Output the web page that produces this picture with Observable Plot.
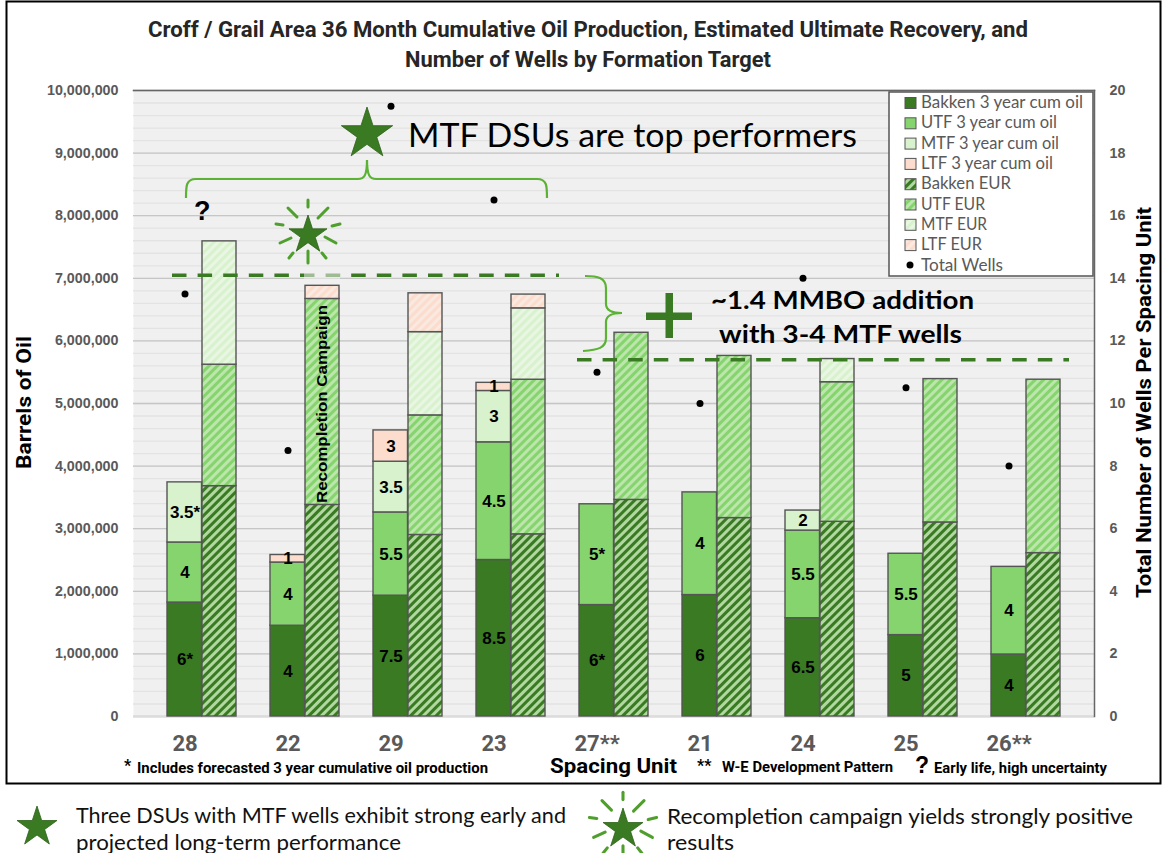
<!DOCTYPE html>
<html><head><meta charset="utf-8">
<script src="https://cdn.jsdelivr.net/npm/d3@7"></script>
<script src="https://cdn.jsdelivr.net/npm/@observablehq/plot@0.6"></script>
<style>html,body{margin:0;padding:0;background:#fff;overflow:hidden}svg{display:block}</style>
</head><body><div id="chart"></div>
<script>
const units = ["28","22","29","23","27**","21","24","25","26**"];
const bakkenCum = [1820000,1450000,1930000,2500000,1780000,1940000,1570000,1300000,990000];
const utfCum    = [960000,1010000,1330000,1880000,1610000,1640000,1400000,1300000,1400000];
const mtfCum    = [960000,0,810000,820000,0,0,320000,0,0];
const ltfCum    = [0,120000,500000,130000,0,0,0,0,0];
const bakkenEur = [3680000,3380000,2900000,2910000,3460000,3170000,3110000,3100000,2610000];
const utfEur    = [1940000,3290000,1910000,2470000,2670000,2590000,2230000,2290000,2770000];
const mtfEur    = [1970000,0,1330000,1140000,0,0,370000,0,0];
const ltfEur    = [0,210000,620000,220000,0,0,0,0,0];
const totalWells= [13.5,8.5,19.5,16.5,11,10,14,10.5,8];
const bakkenLabels = ["6*","4","7.5","8.5","6*","6","6.5","5","4"];
const utfLabels    = ["4","4","5.5","4.5","5*","4","5.5","5.5","4"];
const mtfLabels    = ["3.5*","","3.5","3","","","2","",""];
const ltfLabels    = ["","1","3","1","","","","",""];
const seriesNames = ["Bakken 3 year cum oil","UTF 3 year cum oil","MTF 3 year cum oil","LTF 3 year cum oil","Bakken EUR","UTF EUR","MTF EUR","LTF EUR"];
const seriesFills = ["#3a7a22","#86d46e","#d8f2cd","#fbdccd","url(#hBak)","url(#hUtf)","url(#hMtf)","url(#hLtf)"];
const legendWidths = [162,136,138,132,90,64,66,61];
const hatchDefs = [["hBak","#3a7a22","#b0d8a0"],["hUtf","#86d46e","#bce6ac"],["hMtf","#d8f2cd","#e9f6e3"],["hLtf","#fbdccd","#f9e9e1"]];
const topDashValue = 7040000, lowDashValue = 5690000;
const wellsAxisRatio = 500000; // 20 wells = 10,000,000 bbl on the shared height

const GREEN="#3a7a22", BRACE="#5cb234", GREY="#595959";
const SANS="Liberation Sans, Arial, sans-serif", UI="Roboto, sans-serif", BODY="Lato, sans-serif";

function rows(names, groups, labels){
  const out=[];
  groups.forEach((vals,g)=>vals.forEach((v,i)=>{ if(v>0) out.push({unit:units[i],series:names[g],value:v,label:labels?labels[g][i]:""}); }));
  return out;
}
const cumRows = rows(seriesNames.slice(0,4),[bakkenCum,utfCum,mtfCum,ltfCum],[bakkenLabels,utfLabels,mtfLabels,ltfLabels]);
const eurRows = rows(seriesNames.slice(4),[bakkenEur,utfEur,mtfEur,ltfEur]);
const wellRows = units.map((u,i)=>({unit:u,wells:totalWells[i]}));

const starPts=(cx,cy,R,r=R*0.382)=>d3.range(10).map(i=>{const a=-Math.PI/2+i*Math.PI/5,q=i%2?r:R;return [cx+q*Math.cos(a),cy+q*Math.sin(a)].join(",")}).join(" ");
const rayList=[[0,-35,0,-28],[10,-17,20,-27],[24,-9,32,-11],[17,2,28,8],[14,18,18,23],[0,16,0,28],[-19,23,-15,18],[-28,8,-17,3],[-32,-11,-25,-10],[-20,-27,-11,-18]];

function txt(g,s,x,y,o={}){
  const t=g.append("text").text(s).attr("x",o.rot?null:x).attr("y",o.rot?null:y)
   .attr("font-size",o.size||16).attr("font-weight",o.weight||400).attr("font-family",o.family||BODY)
   .attr("fill",o.fill||"#000").attr("text-anchor",o.anchor||"start");
  if(o.len){t.attr("textLength",o.len).attr("lengthAdjust","spacingAndGlyphs");}
  if(o.rot)t.attr("transform",`translate(${x},${y}) rotate(-90)`);
  return t;
}
function star(g,cx,cy,R,rays){
  g.append("polygon").attr("points",starPts(cx,cy,R)).attr("fill",GREEN).attr("stroke","#2d6219").attr("stroke-width",.8);
  if(rays) rayList.forEach(r=>g.append("line").attr("x1",cx+r[0]*rays).attr("y1",cy+r[1]*rays).attr("x2",cx+r[2]*rays).attr("y2",cy+r[3]*rays).attr("stroke","#4f9f2c").attr("stroke-width",3*Math.sqrt(rays)).attr("stroke-linecap","round"));
}

function defsMark(){
  const s=d3.create("svg:g"), d=s.append("defs");
  hatchDefs.forEach(([id,a,b])=>{
    const p=d.append("pattern").attr("id",id).attr("patternUnits","userSpaceOnUse").attr("width",6).attr("height",6).attr("patternTransform","rotate(45)");
    p.append("rect").attr("width",6).attr("height",6).attr("fill",a);
    p.append("rect").attr("width",3).attr("height",6).attr("fill",b);
  });
  return s.node();
}
function annotations(index,scales){
  const g=d3.create("svg:g"), y=scales.y;
  // outer border and titles
  g.append("rect").attr("x",6.5).attr("y",1.5).attr("width",1154).attr("height",782).attr("fill","none").attr("stroke","#000").attr("stroke-width",2);
  txt(g,"Croff / Grail Area 36 Month Cumulative Oil Production, Estimated Ultimate Recovery, and",148,37,{size:22,weight:700,family:UI,len:880,fill:"#262626"});
  txt(g,"Number of Wells by Formation Target",405,67,{size:22,weight:700,family:UI,len:366,fill:"#262626"});
  txt(g,"Barrels of Oil",31,469,{rot:1,size:20,weight:700,family:UI,len:133});
  txt(g,"Total Number of Wells Per Spacing Unit",1151,598,{rot:1,size:20,weight:700,family:UI,len:391});
  txt(g,"Spacing Unit",550,773,{size:21,weight:700,family:UI,len:127});
  txt(g,"*",124,771,{size:16,weight:700,family:UI});
  txt(g,"Includes forecasted 3 year cumulative oil production",137,773,{size:14.5,weight:700,family:UI,len:351});
  txt(g,"**",697,771,{size:16,weight:700,family:UI});
  txt(g,"W-E Development Pattern",722,772,{size:14.5,weight:700,family:UI,len:171});
  txt(g,"?",915,773,{size:23,weight:700,family:SANS});
  txt(g,"Early life, high uncertainty",934,773,{size:14.5,weight:700,family:UI,len:173});
  // dashed reference levels
  const d1=g.append("line").attr("x1",172).attr("x2",559).attr("y1",y(topDashValue)).attr("y2",y(topDashValue));
  const d2=g.append("line").attr("x1",577).attr("x2",1069).attr("y1",y(lowDashValue)).attr("y2",y(lowDashValue));
  [d1,d2].forEach(l=>l.attr("stroke",GREEN).attr("stroke-width",3.5).attr("stroke-dasharray","14.5 11.1"));
  g.append("rect").attr("x",304).attr("y",269).attr("width",36).attr("height",11).attr("fill","#f0f0f0").attr("opacity",.55);
  // top callout
  star(g,367,134,27);
  txt(g,"MTF DSUs are top performers",408,147,{size:32,family:BODY,len:449});
  g.append("path").attr("d","M186,198 C186,186 186,179 196,179 L358,179 C364,179 367,176 367,160 C367,176 370,179 376,179 L537,179 C547,179 547,186 547,198").attr("fill","none").attr("stroke",BRACE).attr("stroke-width",2.2);
  txt(g,"?",194,220,{size:27,weight:700,family:SANS});
  star(g,308,235,20,1);
  // right callout
  g.append("path").attr("d","M585,276 C598,276 606,278 606,288 L606,304 C606,311 612,313 622,313 C612,313 606,316 606,322 L606,338 C606,348 598,350 583,351").attr("fill","none").attr("stroke",BRACE).attr("stroke-width",2.2);
  g.append("rect").attr("x",646).attr("y",312.5).attr("width",46).attr("height",7.5).attr("fill",GREEN);
  g.append("rect").attr("x",665.5).attr("y",293).attr("width",7.5).attr("height",45).attr("fill",GREEN);
  txt(g,"~1.4 MMBO addition",711,309,{size:25,weight:700,family:BODY,len:263});
  txt(g,"with 3-4 MTF wells",719,343,{size:25,weight:700,family:BODY,len:243});
  txt(g,"Recompletion Campaign",327,503,{rot:1,size:15,weight:700,family:SANS,len:198});
  // legend box
  g.append("rect").attr("x",889).attr("y",92).attr("width",204).attr("height",184).attr("fill","#fff").attr("stroke","#555").attr("stroke-width",1.5);
  seriesNames.forEach((n,i)=>{
    const cy=102.5+i*20.3;
    g.append("rect").attr("x",905).attr("y",cy-5).attr("width",11).attr("height",11).attr("fill",seriesFills[i]).attr("stroke","#555").attr("stroke-width",1);
    txt(g,n,921,cy+5.5,{size:16.5,fill:GREY,family:BODY,len:legendWidths[i]});
  });
  g.append("circle").attr("cx",910).attr("cy",265).attr("r",3.5).attr("fill","#000");
  txt(g,"Total Wells",921,270.5,{size:16.5,fill:GREY,family:BODY,len:82});
  // bottom captions
  star(g,37,827,21);
  txt(g,"Three DSUs with MTF wells exhibit strong early and",76,823,{size:21,family:BODY,len:490,fill:"#111"});
  txt(g,"projected long-term performance",76,850,{size:21,family:BODY,len:325,fill:"#111"});
  star(g,623,829,21,1.05);
  txt(g,"Recompletion campaign yields strongly positive",667,824,{size:21,family:BODY,len:466,fill:"#111"});
  txt(g,"results",667,850,{size:21,family:BODY,len:67,fill:"#111"});
  return g.node();
}

const barOpts={x:"unit",y:"value",fill:"series",stroke:"#555",strokeWidth:1.4};
const tickValues=d3.range(0,10000001,1000000);
const plot=Plot.plot({
  width:1162,height:853,
  marginLeft:133,marginRight:68,marginTop:90,marginBottom:137,
  style:{background:"#fff",fontFamily:SANS},
  x:{domain:units,range:[150,1077],padding:0,label:null},
  y:{domain:[0,10000000],label:null},
  color:{type:"ordinal",domain:seriesNames,range:seriesFills},
  marks:[
    defsMark,
    Plot.frame({fill:"#f0f0f0",stroke:null}),
    Plot.ruleY(d3.range(0,10000001,200000),{stroke:"#e3e3e3",strokeWidth:1.3}),
    Plot.ruleY(tickValues,{stroke:"#c6c6c6",strokeWidth:1.3}),
    Plot.ruleY([0],{stroke:"#dcdcdc",strokeWidth:2}),
    Plot.frame({anchor:"top",stroke:"#666",strokeWidth:1.5}),
    Plot.frame({anchor:"right",stroke:"#666",strokeWidth:1.5}),
    Plot.axisY({ticks:tickValues,tickSize:0,tickPadding:15,tickFormat:d3.format(","),label:null,fill:GREY,fontWeight:700,fontSize:14.3}),
    Plot.axisY({anchor:"right",ticks:tickValues,tickSize:0,tickPadding:15,tickFormat:d=>d/wellsAxisRatio,label:null,fill:GREY,fontWeight:700,fontSize:14.3}),
    Plot.axisX({tickSize:0,tickPadding:19,dx:-17,label:null,fill:GREY,fontWeight:700,fontSize:22,fontFamily:UI}),
    Plot.barY(cumRows,Plot.stackY({...barOpts,insetLeft:17,insetRight:51.5})),
    Plot.barY(eurRows,Plot.stackY({...barOpts,insetLeft:52,insetRight:17})),
    Plot.text(cumRows,Plot.stackY({x:"unit",y:"value",text:"label",dx:-17,fontSize:17,fontWeight:700,fill:"#000",fontFamily:SANS})),
    Plot.dot(wellRows,{x:"unit",y:d=>d.wells*wellsAxisRatio,r:3.5,fill:"#000",dx:-17}),
    annotations
  ]
});
document.getElementById("chart").append(plot);
</script></body></html>
